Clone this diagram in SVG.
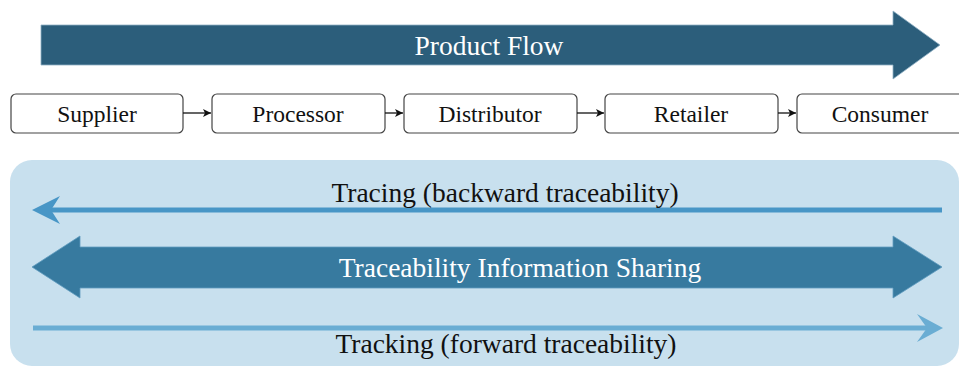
<svg xmlns="http://www.w3.org/2000/svg" width="959" height="367" viewBox="0 0 959 367">
  <style>
    .label { font-family: "Liberation Serif", "Times New Roman", serif; text-anchor: middle; }
    .big { font-size: 27.5px; }
    .white { fill: #ffffff; }
    .dark { fill: #111111; }
    .stage rect { fill: #ffffff; stroke: #444444; stroke-width: 1.2; }
    .stage text { font-size: 23.5px; fill: #111111; }
    .link { stroke: #111111; stroke-width: 1.3; fill: none; marker-end: url(#tip); }
  </style>
  <defs>
    <marker id="tip" viewBox="0 0 10 10" refX="10" refY="5" markerWidth="8" markerHeight="8" markerUnits="userSpaceOnUse" orient="auto">
      <path d="M0,0 L10,5 L0,10 L2.5,5 Z" fill="#111111"/>
    </marker>
  </defs>

  <!-- Product flow banner -->
  <g id="product-flow">
    <polygon points="41,25 893,25 893,11 940,45 893,79 893,65 41,65" fill="#2c5e7b" stroke="#8fb0c4" stroke-width="0.8"/>
    <text class="label big white" x="489" y="55">Product Flow</text>
  </g>

  <!-- Supply chain stages -->
  <g id="supplier" class="stage">
    <rect x="11" y="94" width="172" height="39" rx="5"/>
    <text class="label" x="97" y="122">Supplier</text>
  </g>
  <g id="processor" class="stage">
    <rect x="212" y="94" width="173" height="39" rx="5"/>
    <text class="label" x="298" y="122">Processor</text>
  </g>
  <g id="distributor" class="stage">
    <rect x="404" y="94" width="173" height="39" rx="5"/>
    <text class="label" x="490" y="122">Distributor</text>
  </g>
  <g id="retailer" class="stage">
    <rect x="605" y="94" width="173" height="39" rx="5"/>
    <text class="label" x="691" y="122">Retailer</text>
  </g>
  <g id="consumer" class="stage">
    <rect x="797" y="94" width="172" height="39" rx="5"/>
    <text class="label" x="880" y="122">Consumer</text>
  </g>

  <!-- Stage connectors -->
  <g id="connectors">
    <line class="link" x1="183" y1="113" x2="211" y2="113"/>
    <line class="link" x1="385" y1="113" x2="403" y2="113"/>
    <line class="link" x1="577" y1="113" x2="604" y2="113"/>
    <line class="link" x1="778" y1="113" x2="796" y2="113"/>
  </g>

  <!-- Traceability panel -->
  <g id="traceability-panel">
    <rect x="10" y="160" width="949" height="206" rx="22" fill="#c8e0ee"/>
  </g>

  <g id="tracing">
    <line x1="50" y1="210" x2="942" y2="210" stroke="#4896c6" stroke-width="5"/>
    <path d="M32,210 L60,196 L51,210 L60,224 Z" fill="#4896c6"/>
    <text class="label big dark" x="505" y="202">Tracing (backward traceability)</text>
  </g>

  <g id="information-sharing">
    <polygon points="32,267 80,236 80,247 893,247 893,236 942,267 893,298 893,288 80,288 80,298" fill="#377a9f" stroke="#5f9cbf" stroke-width="0.8"/>
    <text class="label big white" x="520" y="277">Traceability Information Sharing</text>
  </g>

  <g id="tracking">
    <line x1="33" y1="328" x2="930" y2="328" stroke="#6aadd3" stroke-width="5"/>
    <path d="M943,328 L917,314 L927,328 L917,342 Z" fill="#6aadd3"/>
    <text class="label big dark" x="506" y="353">Tracking (forward traceability)</text>
  </g>
</svg>
